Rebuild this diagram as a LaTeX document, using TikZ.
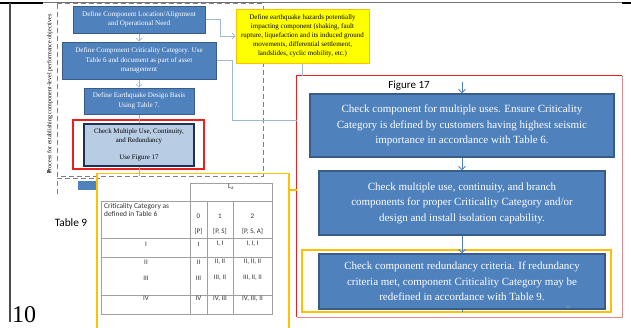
\documentclass[tikz,border=0pt]{standalone}
\usepackage{fontspec}
\setmainfont{Liberation Serif}
\newfontfamily\calib{Carlito}
\usetikzlibrary{arrows.meta,calc}
\definecolor{blueF}{HTML}{4F81BD}
\definecolor{blueD}{HTML}{385D8A}
\definecolor{blueL}{HTML}{B8CCE4}
\definecolor{navyD}{HTML}{1F3050}
\definecolor{arrL}{HTML}{9DB7D9}
\definecolor{arrB}{HTML}{4F81BD}
\definecolor{redF}{HTML}{E82020}
\definecolor{redP}{HTML}{E08A8F}
\definecolor{goldF}{HTML}{FFC000}
\definecolor{yelF}{HTML}{FFFF00}
\definecolor{gridG}{HTML}{A0A0A0}
\tikzset{
  x=1pt, y=-1pt,
  bluebox/.style={draw=blueD, fill=blueF, line width=1pt, text=white, align=center, inner sep=0pt},
  smallbox/.style={bluebox, font=\fontsize{7.1}{9.5}\selectfont},
  bigbox/.style={bluebox, line width=1.3pt, font=\fontsize{11}{15.5}\selectfont},
  larrow/.style={draw=arrL, line width=0.7pt, -{Straight Barb[length=3pt,width=6pt]}},
  lline/.style={draw=arrL, line width=0.7pt},
  barrow/.style={draw=arrB, line width=0.8pt, -{Straight Barb[length=3.5pt,width=7pt]}},
  bline/.style={draw=arrB, line width=0.8pt},
  dashbox/.style={draw=gray, line width=0.8pt, dash pattern=on 5pt off 3pt},
  tabline/.style={draw=gridG, line width=0.6pt},
  tabtxt/.style={font=\calib\fontsize{7}{8}\selectfont, text=black!80, inner sep=0pt}
}
\begin{document}
\begin{tikzpicture}
\useasboundingbox (0,0) rectangle (631,327);
\fill[white] (0,0) rectangle (631,327);

% page frame lines
\draw[gray!90!black, line width=1pt] (43,2.5) -- (622,2.5);
\draw[black, line width=2pt] (0,2.5) -- (43,2.5);
\draw[black, line width=2pt] (622,2.5) -- (631,2.5);
\draw[black!70, line width=2pt] (10,2.5) -- (10,322);
\node[anchor=base west, inner sep=0pt, font=\fontsize{24}{24}\selectfont] (pagenum) at (12,322) {10};

% dashed process box
\draw[dashbox] (57,3.5) rectangle (263,176);
\draw[dashbox] (57,194) -- (57,178) -- (100,178);
\node[rotate=90, inner sep=0pt, font=\fontsize{6.1}{7}\selectfont] (proc) at (50,94) {Process for establishing component-level performance objectives};
\node[inner sep=0pt, font=\fontsize{5}{6}\selectfont] (amp) at (49,172) {\&};
\node[fill=blueF, minimum width=20pt, minimum height=9pt, inner sep=0pt] (hid) at (88,185.5) {};

% left flowchart
\node[smallbox, minimum width=132pt, minimum height=27pt] (b1) at (139,19.5) {Define Component Location/Alignment\\and Operational Need};
\node[smallbox, minimum width=154pt, minimum height=37pt] (b2) at (139,60.5) {Define Component Criticality Category. Use\\Table 6 and document as part of asset\\management};
\node[smallbox, minimum width=110pt, minimum height=26pt] (b3) at (139,101) {Define Earthquake Design Basis\\Using Table 7.};
\node[draw=redF, line width=1.5pt, minimum width=131pt, minimum height=49pt, inner sep=0pt] (rf) at (138.5,144.5) {};
\node[draw=navyD, fill=blueL, line width=1.2pt, minimum width=110pt, minimum height=42pt, inner sep=0pt, align=center, font=\fontsize{6.9}{8.6}\selectfont] (b4) at (139,145) {Check Multiple Use, Continuity,\\and Redundancy\\[8.6pt]Use Figure 17};
\coordinate (b4end) at (139,176);

% yellow hazard box
\node[draw=goldF, fill=yelF, line width=1pt, minimum width=133pt, minimum height=54pt, inner sep=0pt, align=center, font=\fontsize{7}{9}\selectfont] (yel) at (302.5,36) {Define earthquake hazards potentially\\impacting component (shaking, fault\\rupture, liquefaction and its induced ground\\movements, differential settlement,\\landslides, cyclic mobility, etc.)};

% Figure 17 frame
\node[inner sep=0pt, minimum width=325pt, minimum height=241pt] (fig) at (459.5,196.5) {};
\draw[redP, line width=1.3pt] (fig.north east) -- (fig.south east) -- (fig.south west);
\draw[redF, line width=1.3pt] (fig.south west) -- (fig.north west) -- (fig.north east);
\node[inner sep=0pt, font=\calib\fontsize{11}{12}\selectfont] (figlab) at (409,86) {Figure 17};
\coordinate (figin) at (462,82);

\node[bigbox, minimum width=304pt, minimum height=63pt] (ba) at (462,125.5) {Check component for multiple uses. Ensure Criticality\\Category is defined by customers having highest seismic\\importance in accordance with Table 6.};
\node[bigbox, minimum width=286pt, minimum height=64pt] (bb) at (462,203) {Check multiple use, continuity, and branch\\components for proper Criticality Category and/or\\design and install isolation capability.};
\node[draw=goldF, line width=1.5pt, minimum width=309pt, minimum height=62pt, inner sep=0pt] (yf) at (456.5,281) {};
\node[bigbox, minimum width=286pt, minimum height=55pt] (bc) at (462,281.5) {Check component redundancy criteria. If redundancy\\criteria met, component Criticality Category may be\\redefined in accordance with Table 9.};
\coordinate (bcend) at (462,312);
\node[inner sep=0pt, text=gray!70, font=\fontsize{4}{4}\selectfont] (pg22) at (568,307) {22};

% Table 9 frame
\draw[goldF, line width=1.5pt] (97,330) -- (97,173.5) -- (289,173.5) -- (289,330);
\node[inner sep=0pt, minimum width=192pt, minimum height=1pt] (tf) at (193,190) {};
\node[inner sep=0pt, font=\calib\fontsize{11.3}{12}\selectfont] (t9) at (71,223) {Table 9};

% table grid
\draw[tabline] (190,183) rectangle (272,201);
\draw[tabline] (101,201) rectangle (272,314);
\draw[tabline] (190,201) -- (190,314);
\draw[tabline] (207,201) -- (207,314);
\draw[tabline] (233,201) -- (233,314);
\draw[tabline] (101,238) -- (272,238);
\draw[tabline] (101,257) -- (272,257);
\draw[tabline] (101,295) -- (272,295);
\node[tabtxt] (la) at (231,187) {L\textsubscript{a}};
\node[tabtxt, anchor=west, align=left, font=\calib\fontsize{7.4}{8.5}\selectfont] (cc) at (104,210) {Criticality Category as\\defined in Table 6};
\node[tabtxt] (h0) at (198.5,216) {0};
\node[tabtxt] (h1) at (220,216) {1};
\node[tabtxt] (h2) at (252.5,216) {2};
\node[tabtxt] (p0) at (198.5,231) {[P]};
\node[tabtxt] (p1) at (220,231) {[P, S]};
\node[tabtxt] (p2) at (252.5,231) {[P, S, A]};
\node[tabtxt] (r1) at (146,244) {I};
\node[tabtxt] (r1a) at (198.5,244) {I};
\node[tabtxt] (r1b) at (220,244) {I, I};
\node[tabtxt] (r1c) at (252.5,244) {I, I, I};
\node[tabtxt] (r2) at (146,262) {II};
\node[tabtxt] (r2a) at (198.5,262) {II};
\node[tabtxt] (r2b) at (220,262) {II, II};
\node[tabtxt] (r2c) at (252.5,262) {II, II, II};
\node[tabtxt] (r3) at (146,278) {III};
\node[tabtxt] (r3a) at (198.5,278) {III};
\node[tabtxt] (r3b) at (220,278) {III, II};
\node[tabtxt] (r3c) at (252.5,278) {III, II, II};
\node[tabtxt] (r4) at (146,298.5) {IV};
\node[tabtxt] (r4a) at (198.5,298.5) {IV};
\node[tabtxt] (r4b) at (220,298.5) {IV, III};
\node[tabtxt] (r4c) at (252.5,298.5) {IV, III, II};

% connectors
\draw[larrow] (b1.south) -- (b2.north);
\draw[larrow] (b2.south) -- (b3.north);
\draw[lline] (b3.south) -- (b4.north);
\draw[lline] (b4.south) -- (b4end);
\draw[larrow] (b1.east) -- ++(15,0) |- (yel.west);
\draw[lline] (b2.east) -- ++(16,0) |- ($(fig.west)+(0,-76.5)$);
\draw[lline] (yel.south) -- (yel.south |- fig.north);
\draw[goldF, line width=1.5pt] (tf.east) -- (tf.east -| fig.west);
\draw[barrow] (figin) -- (ba.north);
\draw[barrow] (ba.south) -- (bb.north);
\draw[barrow] (bb.south) -- (bc.north);
\draw[bline] (bc.south) -- (bcend);
\end{tikzpicture}
\end{document}
